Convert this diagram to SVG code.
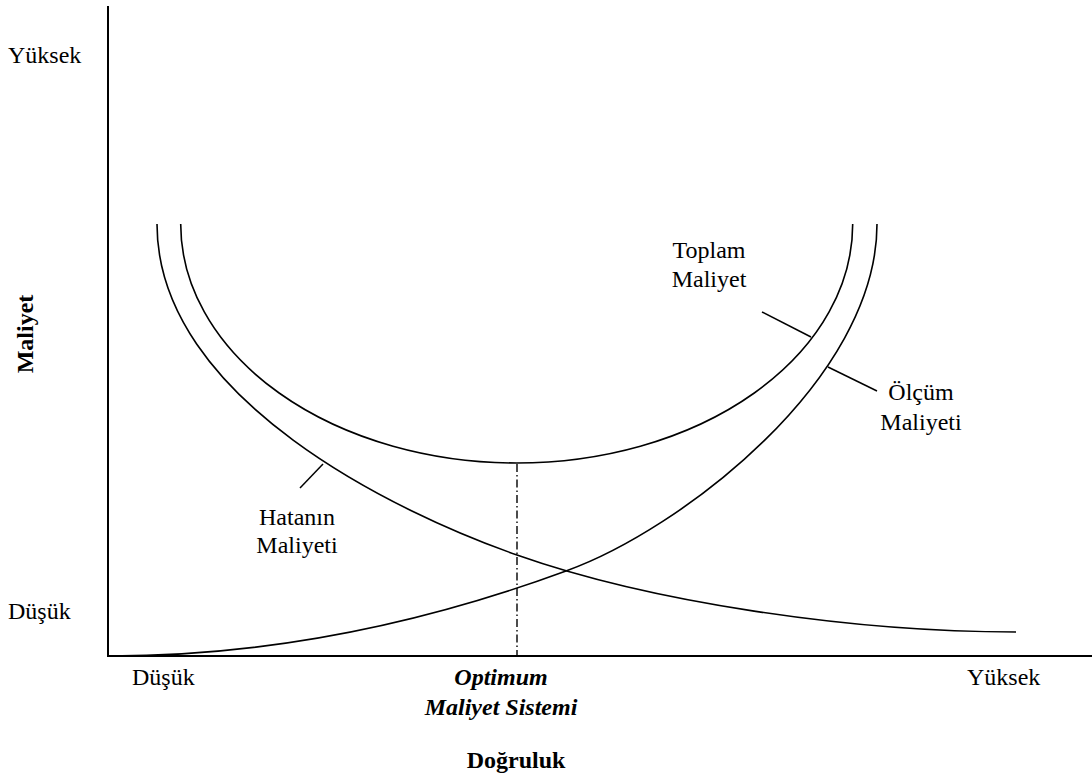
<svg xmlns="http://www.w3.org/2000/svg" width="1092" height="776" viewBox="0 0 1092 776">
  <style>
    .axis { stroke: #000; stroke-width: 2; fill: none; }
    .curve { stroke: #000; stroke-width: 1.6; fill: none; }
    .leader { stroke: #000; stroke-width: 1.5; fill: none; }
    .guide { stroke: #000; stroke-width: 1.4; fill: none; stroke-dasharray: 8 3 1.5 3; }
    text { font-family: "Liberation Serif", "Times New Roman", serif; font-size: 24px; fill: #000; }
    .bold { font-weight: bold; }
    .bi { font-weight: bold; font-style: italic; }
    .mid { text-anchor: middle; }
  </style>
  <rect width="1092" height="776" fill="#fff"/>

  <!-- axes -->
  <g id="axes">
    <line class="axis" x1="108" y1="6" x2="108" y2="657"/>
    <line class="axis" x1="107" y1="656" x2="1092" y2="656"/>
  </g>

  <!-- curves, guide line and leaders -->
  <g id="connectors">
    <!-- total cost: half ellipse -->
    <path id="total-cost" class="curve" d="M180.7,224 A336,239 0 0 0 852.7,224"/>
    <!-- cost of error -->
    <path id="error-cost" class="curve" d="M157,224 C157,400 400,514 517,555 C650,602 850,632 1016,632"/>
    <!-- measurement cost -->
    <path id="measure-cost" class="curve" d="M110,656 C300,656 460,610 566,571 C680,530 877,380 877,224"/>
    <!-- optimum guide -->
    <line class="guide" x1="517" y1="464" x2="517" y2="656"/>
    <!-- label leaders -->
    <line class="leader" x1="300" y1="488" x2="323" y2="464"/>
    <line class="leader" x1="762" y1="312" x2="811" y2="337"/>
    <line class="leader" x1="828" y1="367" x2="877" y2="391"/>
  </g>

  <g id="y-labels">
    <text x="8" y="63">Yüksek</text>
    <text x="8" y="619">Düşük</text>
    <text class="bold mid" transform="translate(33,334) rotate(-90)">Maliyet</text>
  </g>

  <g id="x-labels">
    <text x="132" y="685">Düşük</text>
    <text x="967" y="685">Yüksek</text>
    <text class="bi mid" x="501" y="685">Optimum</text>
    <text class="bi mid" x="501" y="715">Maliyet Sistemi</text>
    <text class="bold mid" x="516" y="768">Doğruluk</text>
  </g>

  <g id="label-total">
    <text class="mid" x="709" y="258">Toplam</text>
    <text class="mid" x="709" y="287">Maliyet</text>
  </g>

  <g id="label-measure">
    <text class="mid" x="921" y="400">Ölçüm</text>
    <text class="mid" x="921" y="430">Maliyeti</text>
  </g>

  <g id="label-error">
    <text class="mid" x="297" y="525">Hatanın</text>
    <text class="mid" x="297" y="553">Maliyeti</text>
  </g>
</svg>
